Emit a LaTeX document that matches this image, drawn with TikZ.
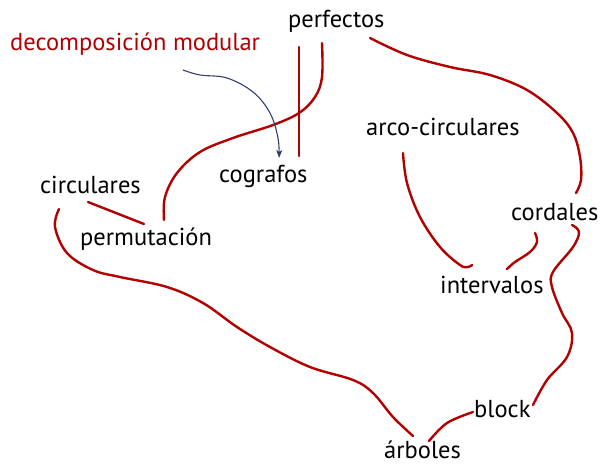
\documentclass[tikz,border=0pt]{standalone}
\usepackage{fontspec}
\setmainfont{PT Sans}
\usetikzlibrary{arrows.meta}
\definecolor{edgered}{RGB}{178,0,0}
\definecolor{arrowblue}{RGB}{50,60,110}
\begin{document}
\begin{tikzpicture}[x=1pt,y=-1pt,
  lbl/.style={anchor=base west,inner sep=0pt,font=\fontsize{24.5}{28}\selectfont,text=black},
  conn/.style={draw=edgered,line width=2.4pt,line cap=round},
  note/.style={draw=arrowblue,line width=1.1pt,-{Stealth[length=8pt,width=6pt,inset=2pt]}}]
\useasboundingbox (0,0) rectangle (602,464);
% nodes
\node[lbl] (perf) at (288,27) {perfectos};
\node[lbl,text=edgered] (dec) at (10,50) {decomposición modular};
\node[lbl] (cog) at (219,182) {cografos};
\node[lbl] (circ) at (40,193) {circulares};
\node[lbl] (perm) at (80,245) {permutación};
\node[lbl] (arco) at (366,135) {arco-circulares};
\node[lbl] (cord) at (511,220) {cordales};
\node[lbl] (int) at (440,293) {intervalos};
\node[lbl] (block) at (474,417) {block};
\node[lbl] (arb) at (384,458) {árboles};
% endpoints
\coordinate (perfA) at (299,47);  \coordinate (cogA) at (299,156);
\coordinate (perfB) at (322,43);  \coordinate (permA) at (164,220);
\coordinate (decA) at (183,70);   \coordinate (cogB) at (279,158);
\coordinate (circA) at (88,202);  \coordinate (permB) at (144,224);
\coordinate (perfC) at (370,38);  \coordinate (cordA) at (576,193);
\coordinate (arcoA) at (403,153); \coordinate (intA) at (472,265);
\coordinate (cordB) at (535,233); \coordinate (intB) at (507,269);
\coordinate (cordC) at (572,225); \coordinate (blockA) at (533,405);
\coordinate (blockB) at (473,412);\coordinate (arbA) at (429,441);
\coordinate (circB) at (59,209);  \coordinate (arbB) at (413,436);
% connectors
\draw[conn] (perfA) -- (cogA);
\draw[conn] plot[smooth,tension=0.6] coordinates {(perfB) (322,77) (315,97) (299,113) (273,125) (233,138) (200,152) (177,173) (165,197) (permA)};
\draw[conn] (circA) -- (permB);
\draw[conn] plot[smooth,tension=0.6] coordinates {(perfC) (407,55) (450,67) (490,75) (527,90) (557,113) (573,133) (580,157) (581,180) (cordA)};
\draw[conn] plot[smooth,tension=0.6] coordinates {(arcoA) (407,183) (420,217) (440,247) (460,265) (468,267) (intA)};
\draw[conn] plot[smooth,tension=0.6] coordinates {(cordB) (537,242) (530,252) (515,262) (intB)};
\draw[conn] plot[smooth,tension=0.6] coordinates {(cordC) (579,232) (573,247) (553,272) (552,287) (562,313) (572,333) (567,357) (547,380) (blockA)};
\draw[conn] plot[smooth,tension=0.6] coordinates {(blockB) (447,423) (arbA)};
\draw[conn] plot[smooth,tension=0.6] coordinates {(circB) (55,227) (67,253) (93,270) (120,277) (167,287) (203,303) (237,327) (270,347) (310,367) (353,380) (373,393) (393,417) (arbB)};
\draw[note] plot[smooth,tension=0.6] coordinates {(decA) (200,75) (227,78) (253,92) (270,113) (278,138) (cogB)};
\end{tikzpicture}
\end{document}
